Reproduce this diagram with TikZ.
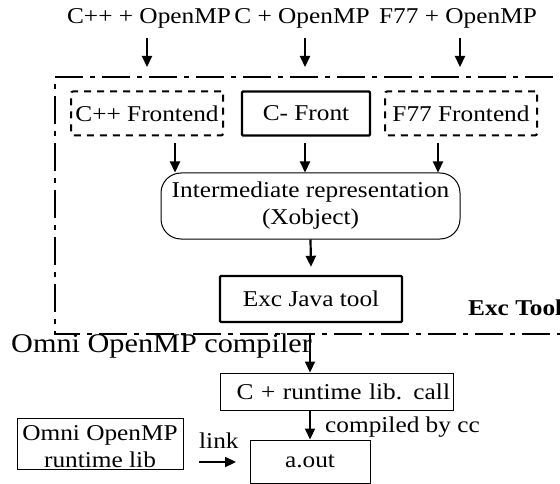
\documentclass[tikz,border=0pt]{standalone}
\usepackage{fontspec}
\setmainfont{Liberation Serif}[FakeStretch=1.12]
\usetikzlibrary{arrows.meta}
\begin{document}
\begin{tikzpicture}[x=1pt,y=-1pt,
  txt/.style={font=\fontsize{22.6}{27}\selectfont, inner sep=0pt},
  box/.style={txt, draw, rectangle, align=center},
  dbox/.style={box, line width=2pt, dash pattern=on 7pt off 6pt, rounded corners=2pt},
  tbox/.style={box, line width=2.4pt, rounded corners=1pt},
  thin/.style={box, line width=1pt},
  arr/.style={line width=2.2pt, -{Triangle[width=10pt,length=11pt]}},
  outer/.style={line width=2.6pt, dash pattern=on 28pt off 7pt on 5pt off 7pt}
]
\useasboundingbox (0,0) rectangle (560,484);

% outer dash-dot frame
\draw[outer] (600,77) -- (55,77) -- (55,334) -- (600,334);

% top labels
\node[txt, anchor=base] (t1) at (149,24) {C++ + OpenMP};
\node[txt, anchor=base] (t2) at (302,24) {C + OpenMP};
\node[txt, anchor=base] (t3) at (458,24) {F77 + OpenMP};

% frontends
\node[dbox, minimum width=152pt, minimum height=44pt] (f1) at (147,113.5) {C++ Frontend};
\node[tbox, minimum width=128pt, minimum height=44pt] (f2) at (306,113.5) {C- Front};
\node[dbox, minimum width=152pt, minimum height=44pt] (f3) at (461,113.5) {F77 Frontend};

% intermediate representation
\node[thin, rounded corners=20pt, minimum width=299pt, minimum height=66pt] (ir) at (310.5,206) {Intermediate representation\\(Xobject)};

% Exc Java tool
\node[tbox, minimum width=182pt, minimum height=46pt] (java) at (311,299) {Exc Java tool};
\node[txt, font=\fontsize{22.6}{27}\selectfont\bfseries, anchor=base west] (exct) at (468,315) {Exc Tool};

% compiler label
\node[txt, font=\fontsize{27}{32}\selectfont, anchor=base west] (omc) at (11,352) {Omni OpenMP compiler};

% lower boxes
\node[thin, minimum width=233pt, minimum height=37pt, text width=227pt, align=right] (crt) at (336.5,391.5) {C + runtime lib. call};
\node[thin, minimum width=166pt, minimum height=51pt] (rtl) at (100,443.5) {};
\node[txt, anchor=base] (rtl1) at (100,440) {Omni OpenMP};
\node[txt, anchor=base] (rtl2) at (100,467.5) {runtime lib};
\node[thin, minimum width=120pt, minimum height=43pt] (aout) at (310,461.5) {a.out};
\node[txt, anchor=base west] (cbc) at (325,432) {compiled by cc};
\node[txt, anchor=base west] (lnk) at (199,448) {link};

% arrows
\coordinate (a1s) at (147,38); \coordinate (a1e) at (147,67);
\coordinate (a2s) at (305,38); \coordinate (a2e) at (305,67);
\coordinate (a3s) at (460,38); \coordinate (a3e) at (460,67);
\draw[arr] (a1s) -- (a1e);
\draw[arr] (a2s) -- (a2e);
\draw[arr] (a3s) -- (a3e);

\coordinate (b1) at (175,143);
\coordinate (b2) at (305,143);
\coordinate (b3) at (438,143);
\draw[arr] (b1) -- (b1 |- ir.north);
\draw[arr] (b2) -- (b2 |- ir.north);
\draw[arr] (b3) -- (b3 |- ir.north);

\draw[arr] (ir.south) -- ([yshift=8pt]java.north);

\coordinate (c1) at (310,335);
\draw[arr] (c1) -- (c1 |- crt.north);
\draw[arr] (crt.south -| aout.north) -- (aout.north);

\coordinate (l1) at (199,462);
\coordinate (l2) at (236,462);
\draw[arr] (l1) -- (l2);
\end{tikzpicture}
\end{document}
